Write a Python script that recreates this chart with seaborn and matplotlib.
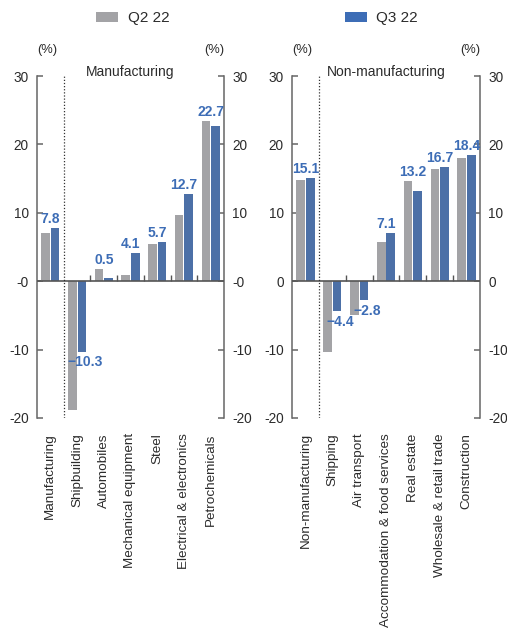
import matplotlib
matplotlib.use('Agg')
import matplotlib.pyplot as plt
from matplotlib.patches import Patch
import seaborn as sns
import pandas as pd

# ---- data ----
series = ['Q2 22', 'Q3 22']
mfg_categories = ['Manufacturing', 'Shipbuilding', 'Automobiles', 'Mechanical equipment',
                  'Steel', 'Electrical & electronics', 'Petrochemicals']
mfg_q2 = [7.0, -18.9, 1.8, 0.9, 5.5, 9.7, 23.4]
mfg_q3 = [7.8, -10.3, 0.5, 4.1, 5.7, 12.7, 22.7]
nonmfg_categories = ['Non-manufacturing', 'Shipping', 'Air transport',
                     'Accommodation & food services', 'Real estate',
                     'Wholesale & retail trade', 'Construction']
nonmfg_q2 = [14.8, -10.4, -5.0, 5.7, 14.7, 16.4, 18.0]
nonmfg_q3 = [15.1, -4.4, -2.8, 7.1, 13.2, 16.7, 18.4]
y_ticks = [-20, -10, 0, 10, 20, 30]
mfg_ytick_labels = ['-20', '-10', '-0', '10', '20', '30']
nonmfg_ytick_labels = ['-20', '-10', '0', '10', '20', '30']
panel_titles = ['Manufacturing', 'Non-manufacturing']

GRAY = '#a3a3a6'
BLUE = '#3d6db6'
TEXT = '#2b2b2b'
SPINE = '#666666'

sns.set_theme(style='white')
plt.rcParams['font.family'] = ['Liberation Sans', 'DejaVu Sans']

fig = plt.figure(figsize=(5.07, 6.28), dpi=100)
ax_l = fig.add_axes([37/507, 1-418/628, (224-37)/507, 342/628])
ax_r = fig.add_axes([292/507, 1-418/628, (480-292)/507, 342/628])

panels = [
    (ax_l, mfg_categories, mfg_q2, mfg_q3, mfg_ytick_labels, panel_titles[0]),
    (ax_r, nonmfg_categories, nonmfg_q2, nonmfg_q3, nonmfg_ytick_labels, panel_titles[1]),
]

for ax, cats, q2, q3, ylabels, title in panels:
    df = pd.DataFrame({
        'category': cats * 2,
        'quarter': [series[0]] * len(cats) + [series[1]] * len(cats),
        'value': q2 + q3,
    })
    sns.barplot(data=df, x='category', y='value', hue='quarter', order=cats,
                hue_order=series, palette=[GRAY, BLUE], width=0.72, gap=0.1,
                linewidth=0, legend=False, ax=ax)
    ax.set_ylim(-20, 30)
    ax.set_xlim(-0.5, len(cats) - 0.5)
    ax.set_xlabel('')
    ax.set_ylabel('')
    for s in ['top', 'bottom']:
        ax.spines[s].set_visible(False)
    for s in ['left', 'right']:
        ax.spines[s].set_visible(True)
        ax.spines[s].set_color(SPINE)
        ax.spines[s].set_linewidth(1.1)
    ax.set_yticks(y_ticks)
    ax.set_yticklabels(ylabels)
    ax.tick_params(axis='y', left=True, right=True, labelleft=True, labelright=True,
                   direction='in', length=4, width=1.1, color=SPINE, pad=6,
                   labelsize=9.8, labelcolor=TEXT)
    ax.set_xticks(range(len(cats)))
    ax.set_xticklabels(cats, rotation=90, ha='center', va='top')
    ax.tick_params(axis='x', bottom=False, length=0, pad=11, labelsize=9.7,
                   labelcolor=TEXT)
    # zero line and separator
    ax.axhline(0, color='#555555', lw=1.2, zorder=3)
    ax.axvline(0.5, color='#333333', lw=0.9, ls=(0, (1, 1.5)), zorder=3)
    # small ticks on zero line at category boundaries
    for b in range(1, len(cats) - 1):
        ax.vlines(b + 0.5, 0, 0.9, color='#555555', lw=1.0, zorder=3)
    # value labels
    for i, (a, b) in enumerate(zip(q2, q3)):
        txt = f'{b:.1f}'.replace('-', '\u2212')
        if b >= 0:
            ax.text(i, max(a, b) + 0.3, txt, ha='center', va='bottom',
                    color=BLUE, fontsize=10, fontweight='bold', zorder=4)
        else:
            ax.text(i + 0.3, b - 0.5, txt, ha='center', va='top',
                    color=BLUE, fontsize=10, fontweight='bold', zorder=4)
    ax.text(0.5, 1.012, title, transform=ax.transAxes, ha='center', va='center',
            fontsize=10, color=TEXT)
    ax.text(0.0, 1.076, '(%)', transform=ax.transAxes, ha='left', va='center',
            fontsize=9.3, color=TEXT)
    ax.text(1.0, 1.076, '(%)', transform=ax.transAxes, ha='right', va='center',
            fontsize=9.3, color=TEXT)

handles = [Patch(facecolor=GRAY, edgecolor='none'), Patch(facecolor=BLUE, edgecolor='none')]
fig.legend(handles, series, loc='center', bbox_to_anchor=(0.507, 1 - 18/628),
           ncol=2, frameon=False, fontsize=11, columnspacing=11.5,
           handlelength=1.45, handleheight=0.65, handletextpad=0.6,
           labelcolor=TEXT)

fig.savefig('out.png', dpi=100)
